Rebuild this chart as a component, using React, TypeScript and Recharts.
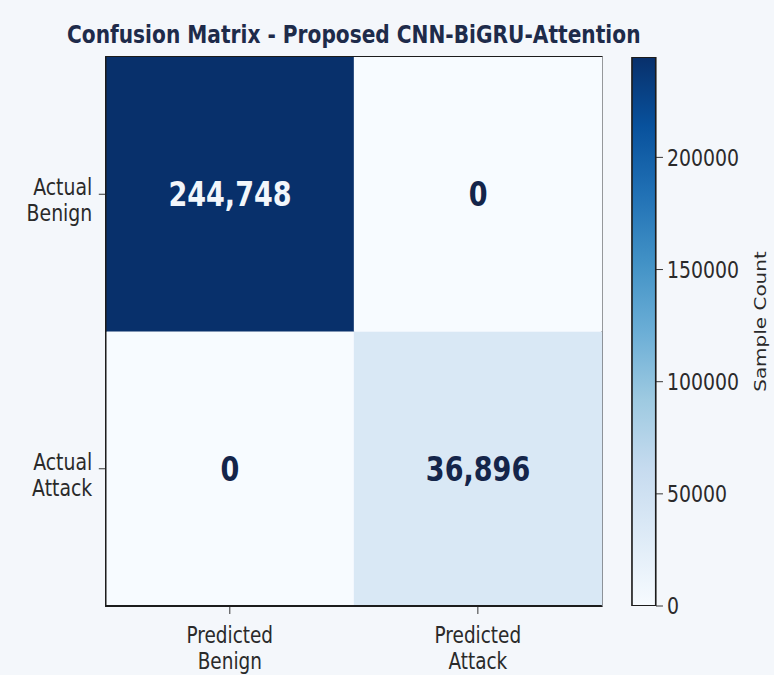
import { BarChart, Bar, Cell, XAxis, YAxis, LabelList, ReferenceArea } from 'recharts'

// rows: actual class, columns: predicted class
const PREDICTED = ['Predicted Benign', 'Predicted Attack']
const ACTUAL = ['Actual Benign', 'Actual Attack']
const BENIGN_ROW = [244748, 0]
const ATTACK_ROW = [0, 36896]
const CBAR_TICKS = [0, 50000, 100000, 150000, 200000]

const VMAX = Math.max(...BENIGN_ROW, ...ATTACK_ROW)

// matplotlib "Blues"
const BLUES = ['#f7fbff', '#deebf7', '#c6dbef', '#9ecae1', '#6baed6', '#4292c6', '#2171b5', '#08519c', '#08306b']

function blues(t: number): string {
  const p = Math.min(1, Math.max(0, t)) * (BLUES.length - 1)
  const i = Math.min(BLUES.length - 2, Math.floor(p))
  const f = p - i
  const a = BLUES[i]
  const b = BLUES[i + 1]
  const ch = (s: string, k: number) => parseInt(s.slice(1 + k * 2, 3 + k * 2), 16)
  const out = [0, 1, 2].map((k) => Math.round(ch(a, k) + (ch(b, k) - ch(a, k)) * f))
  return `rgb(${out.join(',')})`
}

const cells = PREDICTED.map((p, i) => ({
  pred: p,
  benign: BENIGN_ROW[i],
  attack: ATTACK_ROW[i],
  top: 1,
  bottom: 1,
}))

const SX = 0.82
const FONT = '"DejaVu Sans", sans-serif'
const INK = '#2a2a2a'
const NAVY = '#14254a'

function CountLabel(props: any) {
  const { x, y, width, height, value } = props
  const v = Number(value)
  return (
    <text
      x={x + width / 2}
      y={y + height / 2}
      dy="0.36em"
      textAnchor="middle"
      fontSize={33}
      fontWeight="bold"
      fill={v / VMAX > 0.5 ? '#f2f6fb' : NAVY}
    >
      {v.toLocaleString('en-US')}
    </text>
  )
}

function XTick({ x, y, payload }: any) {
  const [a, b] = String(payload.value).split(' ')
  return (
    <g>
      <text x={x} y={y + 27} textAnchor="middle" fontSize={22.5} fill={INK}>{a}</text>
      <text x={x} y={y + 53} textAnchor="middle" fontSize={22.5} fill={INK}>{b}</text>
    </g>
  )
}

function YTick({ x, y, payload }: any) {
  const label = ACTUAL[payload.value > 1 ? 0 : 1]
  const [a, b] = label.split(' ')
  return (
    <g>
      <text x={x - 6} y={y + 1} textAnchor="end" fontSize={23} fill={INK}>{a}</text>
      <text x={x - 6} y={y + 27} textAnchor="end" fontSize={23} fill={INK}>{b}</text>
    </g>
  )
}

function CbarLabel(props: any) {
  const { viewBox } = props
  const cx = viewBox.x + viewBox.width - 10
  const cy = viewBox.y + viewBox.height / 2 - 10
  return (
    <text x={cx} y={cy} transform={`rotate(-90 ${cx} ${cy})`} textAnchor="middle" fontSize={20} fill={INK}>
      Sample Count
    </text>
  )
}

const spine = { stroke: '#1c1c1c', strokeWidth: 1.8 }

export default function App() {
  return (
    <div style={{ position: 'absolute', left: 0, top: 0, width: 774, height: 675, background: '#f4f7fb', overflow: 'hidden' }}>
      <div style={{ position: 'relative', width: 944, height: 675, transform: `scaleX(${SX})`, transformOrigin: '0 0', fontFamily: FONT }}>
        <svg width={944} height={60} style={{ position: 'absolute', left: 0, top: 0 }}>
          <text x={431.4} y={43} textAnchor="middle" fontSize={24.6} fontWeight="bold" fill="#1e2b4a" fontFamily={FONT}>
            Confusion Matrix - Proposed CNN-BiGRU-Attention
          </text>
        </svg>

        <div style={{ position: 'absolute', left: 0, top: 0 }}>
          <BarChart width={760} height={675} data={cells} barCategoryGap={0} margin={{ top: 57, right: 26, bottom: 9, left: 29 }}>
            <XAxis dataKey="pred" height={60} tick={<XTick />} tickSize={8} tickMargin={2} axisLine={spine} tickLine={{ stroke: '#222' }} interval={0} />
            <YAxis type="number" domain={[0, 2]} ticks={[0.5, 1.5]} width={100} tick={<YTick />} tickSize={8.5} tickMargin={2} axisLine={spine} tickLine={{ stroke: '#222' }} />
            <Bar dataKey="bottom" stackId="m" isAnimationActive={false}>
              {cells.map((c) => (
                <Cell key={c.pred} fill={blues(c.attack / VMAX)} />
              ))}
              <LabelList dataKey="attack" content={<CountLabel />} />
            </Bar>
            <Bar dataKey="top" stackId="m" isAnimationActive={false}>
              {cells.map((c) => (
                <Cell key={c.pred} fill={blues(c.benign / VMAX)} />
              ))}
              <LabelList dataKey="benign" content={<CountLabel />} />
            </Bar>
            {/* frame around the matrix */}
            <ReferenceArea y1={0} y2={2} fill="none" fillOpacity={0} stroke="#1c1c1c" strokeWidth={1.8} ifOverflow="visible" />
          </BarChart>
        </div>

        <div style={{ position: 'absolute', left: 760, top: 0 }}>
          <BarChart width={184} height={675} data={[{ k: 'scale', v: VMAX }]} barCategoryGap={0} margin={{ top: 57, right: 0, bottom: 69, left: 10.7 }}>
            <defs>
              <linearGradient id="bluesGrad" x1="0" y1="1" x2="0" y2="0">
                {BLUES.map((c, i) => (
                  <stop key={c} offset={`${(i / (BLUES.length - 1)) * 100}%`} stopColor={c} />
                ))}
              </linearGradient>
            </defs>
            <XAxis dataKey="k" hide />
            <YAxis
              orientation="right"
              type="number"
              domain={[0, VMAX]}
              allowDataOverflow
              ticks={CBAR_TICKS}
              width={144}
              tickSize={8.5}
              tickMargin={5}
              axisLine={false}
              tickLine={{ stroke: '#222' }}
              tick={{ fill: INK, fontSize: 23 }}
              label={<CbarLabel />}
            />
            <Bar dataKey="v" fill="url(#bluesGrad)" stroke="#1c1c1c" strokeWidth={2} isAnimationActive={false} />
          </BarChart>
        </div>
      </div>
    </div>
  )
}
